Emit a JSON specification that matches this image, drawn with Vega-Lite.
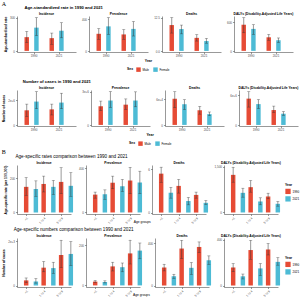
{
  "$schema": "https://vega.github.io/schema/vega-lite/v6.json",
  "padding": {"left": 1, "top": 0, "right": 1, "bottom": 1},
  "background": "white",
  "datasets": {
    "burden": [
      {"section": "A1", "measure": "Incidence", "group": "1990", "series": "Male", "value": 124, "lower": 75, "upper": 176},
      {"section": "A1", "measure": "Incidence", "group": "1990", "series": "Female", "value": 210, "lower": 138, "upper": 300},
      {"section": "A1", "measure": "Incidence", "group": "2021", "series": "Male", "value": 115, "lower": 60, "upper": 161},
      {"section": "A1", "measure": "Incidence", "group": "2021", "series": "Female", "value": 182, "lower": 118, "upper": 254},
      {"section": "A1", "measure": "Prevalence", "group": "1990", "series": "Male", "value": 216, "lower": 147, "upper": 282},
      {"section": "A1", "measure": "Prevalence", "group": "1990", "series": "Female", "value": 310, "lower": 208, "upper": 420},
      {"section": "A1", "measure": "Prevalence", "group": "2021", "series": "Male", "value": 208, "lower": 147, "upper": 269},
      {"section": "A1", "measure": "Prevalence", "group": "2021", "series": "Female", "value": 278, "lower": 188, "upper": 371},
      {"section": "A1", "measure": "Deaths", "group": "1990", "series": "Male", "value": 9.7, "lower": 6.7, "upper": 12.5},
      {"section": "A1", "measure": "Deaths", "group": "1990", "series": "Female", "value": 8.2, "lower": 6.4, "upper": 9.7},
      {"section": "A1", "measure": "Deaths", "group": "2021", "series": "Male", "value": 4.9, "lower": 3.7, "upper": 6.1},
      {"section": "A1", "measure": "Deaths", "group": "2021", "series": "Female", "value": 3.7, "lower": 2.9, "upper": 4.7},
      {"section": "A1", "measure": "DALYs", "group": "1990", "series": "Male", "value": 551, "lower": 381, "upper": 700},
      {"section": "A1", "measure": "DALYs", "group": "1990", "series": "Female", "value": 463, "lower": 347, "upper": 551},
      {"section": "A1", "measure": "DALYs", "group": "2021", "series": "Male", "value": 286, "lower": 224, "upper": 347},
      {"section": "A1", "measure": "DALYs", "group": "2021", "series": "Female", "value": 224, "lower": 177, "upper": 272},

      {"section": "A2", "measure": "Incidence", "group": "1990", "series": "Male", "value": 870000, "lower": 500000, "upper": 1240000},
      {"section": "A2", "measure": "Incidence", "group": "1990", "series": "Female", "value": 1390000, "lower": 963000, "upper": 1980000},
      {"section": "A2", "measure": "Incidence", "group": "2021", "series": "Male", "value": 926000, "lower": 593000, "upper": 1240000},
      {"section": "A2", "measure": "Incidence", "group": "2021", "series": "Female", "value": 1330000, "lower": 963000, "upper": 1890000},
      {"section": "A2", "measure": "Prevalence", "group": "1990", "series": "Male", "value": 1400000, "lower": 1070000, "upper": 1790000},
      {"section": "A2", "measure": "Prevalence", "group": "1990", "series": "Female", "value": 1830000, "lower": 1310000, "upper": 2500000},
      {"section": "A2", "measure": "Prevalence", "group": "2021", "series": "Male", "value": 1520000, "lower": 1170000, "upper": 1950000},
      {"section": "A2", "measure": "Prevalence", "group": "2021", "series": "Female", "value": 1830000, "lower": 1360000, "upper": 2480000},
      {"section": "A2", "measure": "Deaths", "group": "1990", "series": "Male", "value": 60700, "lower": 40000, "upper": 77000},
      {"section": "A2", "measure": "Deaths", "group": "1990", "series": "Female", "value": 48000, "lower": 35500, "upper": 58500},
      {"section": "A2", "measure": "Deaths", "group": "2021", "series": "Male", "value": 34000, "lower": 25000, "upper": 43000},
      {"section": "A2", "measure": "Deaths", "group": "2021", "series": "Female", "value": 25000, "lower": 21500, "upper": 30000},
      {"section": "A2", "measure": "DALYs", "group": "1990", "series": "Male", "value": 5300000, "lower": 3600000, "upper": 6700000},
      {"section": "A2", "measure": "DALYs", "group": "1990", "series": "Female", "value": 4200000, "lower": 3300000, "upper": 5100000},
      {"section": "A2", "measure": "DALYs", "group": "2021", "series": "Male", "value": 3000000, "lower": 2500000, "upper": 3800000},
      {"section": "A2", "measure": "DALYs", "group": "2021", "series": "Female", "value": 2260000, "lower": 1940000, "upper": 2700000},

      {"section": "B1", "measure": "Incidence", "group": "<1", "series": "1990", "value": 150, "lower": 100, "upper": 204},
      {"section": "B1", "measure": "Incidence", "group": "<1", "series": "2021", "value": 137, "lower": 95, "upper": 185},
      {"section": "B1", "measure": "Incidence", "group": "1 to 4", "series": "1990", "value": 167, "lower": 120, "upper": 213},
      {"section": "B1", "measure": "Incidence", "group": "1 to 4", "series": "2021", "value": 150, "lower": 105, "upper": 188},
      {"section": "B1", "measure": "Incidence", "group": "5 to 9", "series": "1990", "value": 179, "lower": 110, "upper": 262},
      {"section": "B1", "measure": "Incidence", "group": "5 to 9", "series": "2021", "value": 156, "lower": 95, "upper": 233},
      {"section": "B1", "measure": "Prevalence", "group": "<1", "series": "1990", "value": 162, "lower": 130, "upper": 185},
      {"section": "B1", "measure": "Prevalence", "group": "<1", "series": "2021", "value": 165, "lower": 120, "upper": 205},
      {"section": "B1", "measure": "Prevalence", "group": "1 to 4", "series": "1990", "value": 270, "lower": 215, "upper": 330},
      {"section": "B1", "measure": "Prevalence", "group": "1 to 4", "series": "2021", "value": 238, "lower": 190, "upper": 300},
      {"section": "B1", "measure": "Prevalence", "group": "5 to 9", "series": "1990", "value": 290, "lower": 170, "upper": 410},
      {"section": "B1", "measure": "Prevalence", "group": "5 to 9", "series": "2021", "value": 272, "lower": 170, "upper": 375},
      {"section": "B1", "measure": "Deaths", "group": "<1", "series": "1990", "value": 5.4, "lower": 4.2, "upper": 6.3},
      {"section": "B1", "measure": "Deaths", "group": "<1", "series": "2021", "value": 2.75, "lower": 2.0, "upper": 3.5},
      {"section": "B1", "measure": "Deaths", "group": "1 to 4", "series": "1990", "value": 3.7, "lower": 2.7, "upper": 4.6},
      {"section": "B1", "measure": "Deaths", "group": "1 to 4", "series": "2021", "value": 1.6, "lower": 1.07, "upper": 2.1},
      {"section": "B1", "measure": "Deaths", "group": "5 to 9", "series": "1990", "value": 2.45, "lower": 2.0, "upper": 2.84},
      {"section": "B1", "measure": "Deaths", "group": "5 to 9", "series": "2021", "value": 1.35, "lower": 1.1, "upper": 1.67},
      {"section": "B1", "measure": "DALYs", "group": "<1", "series": "1990", "value": 1228, "lower": 989, "upper": 1478},
      {"section": "B1", "measure": "DALYs", "group": "<1", "series": "2021", "value": 641, "lower": 500, "upper": 793},
      {"section": "B1", "measure": "DALYs", "group": "1 to 4", "series": "1990", "value": 826, "lower": 663, "upper": 1043},
      {"section": "B1", "measure": "DALYs", "group": "1 to 4", "series": "2021", "value": 359, "lower": 250, "upper": 478},
      {"section": "B1", "measure": "DALYs", "group": "5 to 9", "series": "1990", "value": 522, "lower": 446, "upper": 630},
      {"section": "B1", "measure": "DALYs", "group": "5 to 9", "series": "2021", "value": 283, "lower": 206, "upper": 359},

      {"section": "B2", "measure": "Incidence", "group": "<1", "series": "1990", "value": 174, "lower": 93, "upper": 256},
      {"section": "B2", "measure": "Incidence", "group": "<1", "series": "2021", "value": 140, "lower": 81, "upper": 233},
      {"section": "B2", "measure": "Incidence", "group": "1 to 4", "series": "1990", "value": 605, "lower": 465, "upper": 814},
      {"section": "B2", "measure": "Incidence", "group": "1 to 4", "series": "2021", "value": 590, "lower": 407, "upper": 790},
      {"section": "B2", "measure": "Incidence", "group": "5 to 9", "series": "1990", "value": 1035, "lower": 605, "upper": 1535},
      {"section": "B2", "measure": "Incidence", "group": "5 to 9", "series": "2021", "value": 1070, "lower": 674, "upper": 1488},
      {"section": "B2", "measure": "Prevalence", "group": "<1", "series": "1990", "value": 19, "lower": 14, "upper": 24.6},
      {"section": "B2", "measure": "Prevalence", "group": "<1", "series": "2021", "value": 17.5, "lower": 12.3, "upper": 22.8},
      {"section": "B2", "measure": "Prevalence", "group": "1 to 4", "series": "1990", "value": 95, "lower": 72, "upper": 116},
      {"section": "B2", "measure": "Prevalence", "group": "1 to 4", "series": "2021", "value": 91, "lower": 68, "upper": 112},
      {"section": "B2", "measure": "Prevalence", "group": "5 to 9", "series": "1990", "value": 160, "lower": 107, "upper": 226},
      {"section": "B2", "measure": "Prevalence", "group": "5 to 9", "series": "2021", "value": 174, "lower": 133, "upper": 212},
      {"section": "B2", "measure": "Deaths", "group": "<1", "series": "1990", "value": 169, "lower": 137, "upper": 200},
      {"section": "B2", "measure": "Deaths", "group": "<1", "series": "2021", "value": 87, "lower": 66, "upper": 106},
      {"section": "B2", "measure": "Deaths", "group": "1 to 4", "series": "1990", "value": 347, "lower": 253, "upper": 425},
      {"section": "B2", "measure": "Deaths", "group": "1 to 4", "series": "2021", "value": 166, "lower": 103, "upper": 216},
      {"section": "B2", "measure": "Deaths", "group": "5 to 9", "series": "1990", "value": 362, "lower": 309, "upper": 409},
      {"section": "B2", "measure": "Deaths", "group": "5 to 9", "series": "2021", "value": 237, "lower": 197, "upper": 278},
      {"section": "B2", "measure": "DALYs", "group": "<1", "series": "1990", "value": 157, "lower": 120, "upper": 191},
      {"section": "B2", "measure": "DALYs", "group": "<1", "series": "2021", "value": 80, "lower": 57, "upper": 100},
      {"section": "B2", "measure": "DALYs", "group": "1 to 4", "series": "1990", "value": 309, "lower": 229, "upper": 394},
      {"section": "B2", "measure": "DALYs", "group": "1 to 4", "series": "2021", "value": 149, "lower": 86, "upper": 191},
      {"section": "B2", "measure": "DALYs", "group": "5 to 9", "series": "1990", "value": 314, "lower": 266, "upper": 366},
      {"section": "B2", "measure": "DALYs", "group": "5 to 9", "series": "2021", "value": 206, "lower": 177, "upper": 243}
    ]
  },
  "data": {"name": "burden"},
  "resolve": {"scale": {"color": "independent"}},
  "spacing": 2,
  "vconcat": [
    {
      "title": {"text": "A", "anchor": "start", "font": "Liberation Serif", "fontSize": 6, "fontWeight": "normal", "offset": -1},
      "resolve": {"scale": {"color": "independent"}},
      "spacing": 6,
      "vconcat": [
        {
          "title": {"text": "Age-standardized rate in 1990 and 2021", "anchor": "start", "dx": 21, "fontSize": 4.2, "fontWeight": "bold", "offset": 2},
          "vconcat": [
            {
              "title": {"text": "Year", "orient": "bottom", "anchor": "middle", "fontSize": 3.5, "fontWeight": "bold", "offset": 1},
              "spacing": 5,
              "hconcat": [
                {
                  "width": 59, "height": 36,
                  "title": "Incidence",
                  "transform": [{"filter": "datum.section == 'A1' && datum.measure == 'Incidence'"}],
                  "encoding": {
                    "x": {"field": "group", "type": "nominal", "sort": ["1990", "2021"], "title": null, "scale": {"paddingInner": 0.24, "paddingOuter": 0.3}, "axis": {"labelAngle": 0}},
                    "xOffset": {"field": "series", "type": "nominal", "sort": ["Male", "Female"], "scale": {"paddingInner": 0.08}}
                  },
                  "layer": [
                    {"mark": "bar", "encoding": {
                      "y": {"field": "value", "type": "quantitative", "title": "Age-standardized rate", "scale": {"domain": [-10, 315], "nice": false, "zero": false}, "axis": {"values": [0, 100, 200, 300]}},
                      "y2": {"datum": 0},
                      "color": {"field": "series", "type": "nominal", "scale": {"domain": ["Male", "Female"], "range": ["#E64B35", "#4DBBD5"]}, "legend": {"title": "Sex", "orient": "bottom", "direction": "horizontal", "titleOrient": "left"}}}},
                    {"mark": {"type": "rule", "color": "#333333", "strokeWidth": 0.5}, "encoding": {"y": {"field": "lower", "type": "quantitative", "title": "Age-standardized rate"}, "y2": {"field": "upper"}}},
                    {"mark": {"type": "tick", "color": "#333333", "thickness": 0.5, "size": 3}, "encoding": {"y": {"field": "lower", "type": "quantitative", "title": "Age-standardized rate"}}},
                    {"mark": {"type": "tick", "color": "#333333", "thickness": 0.5, "size": 3}, "encoding": {"y": {"field": "upper", "type": "quantitative", "title": "Age-standardized rate"}}}
                  ]
                },
                {
                  "width": 59, "height": 36,
                  "title": "Prevalence",
                  "transform": [{"filter": "datum.section == 'A1' && datum.measure == 'Prevalence'"}],
                  "encoding": {
                    "x": {"field": "group", "type": "nominal", "sort": ["1990", "2021"], "title": null, "scale": {"paddingInner": 0.24, "paddingOuter": 0.3}, "axis": {"labelAngle": 0}},
                    "xOffset": {"field": "series", "type": "nominal", "sort": ["Male", "Female"], "scale": {"paddingInner": 0.08}}
                  },
                  "layer": [
                    {"mark": "bar", "encoding": {
                      "y": {"field": "value", "type": "quantitative", "title": null, "scale": {"domain": [-14, 441], "nice": false, "zero": false}, "axis": {"values": [0, 100, 200, 300, 400]}},
                      "y2": {"datum": 0},
                      "color": {"field": "series", "type": "nominal", "scale": {"domain": ["Male", "Female"], "range": ["#E64B35", "#4DBBD5"]}, "legend": {"title": "Sex", "orient": "bottom", "direction": "horizontal", "titleOrient": "left"}}}},
                    {"mark": {"type": "rule", "color": "#333333", "strokeWidth": 0.5}, "encoding": {"y": {"field": "lower", "type": "quantitative", "title": null}, "y2": {"field": "upper"}}},
                    {"mark": {"type": "tick", "color": "#333333", "thickness": 0.5, "size": 3}, "encoding": {"y": {"field": "lower", "type": "quantitative", "title": null}}},
                    {"mark": {"type": "tick", "color": "#333333", "thickness": 0.5, "size": 3}, "encoding": {"y": {"field": "upper", "type": "quantitative", "title": null}}}
                  ]
                },
                {
                  "width": 59, "height": 36,
                  "title": "Deaths",
                  "transform": [{"filter": "datum.section == 'A1' && datum.measure == 'Deaths'"}],
                  "encoding": {
                    "x": {"field": "group", "type": "nominal", "sort": ["1990", "2021"], "title": null, "scale": {"paddingInner": 0.24, "paddingOuter": 0.3}, "axis": {"labelAngle": 0}},
                    "xOffset": {"field": "series", "type": "nominal", "sort": ["Male", "Female"], "scale": {"paddingInner": 0.08}}
                  },
                  "layer": [
                    {"mark": "bar", "encoding": {
                      "y": {"field": "value", "type": "quantitative", "title": null, "scale": {"domain": [-0.4, 13.1], "nice": false, "zero": false}, "axis": {"values": [0, 2.5, 5, 7.5, 10, 12.5], "format": ".1f"}},
                      "y2": {"datum": 0},
                      "color": {"field": "series", "type": "nominal", "scale": {"domain": ["Male", "Female"], "range": ["#E64B35", "#4DBBD5"]}, "legend": {"title": "Sex", "orient": "bottom", "direction": "horizontal", "titleOrient": "left"}}}},
                    {"mark": {"type": "rule", "color": "#333333", "strokeWidth": 0.5}, "encoding": {"y": {"field": "lower", "type": "quantitative", "title": null}, "y2": {"field": "upper"}}},
                    {"mark": {"type": "tick", "color": "#333333", "thickness": 0.5, "size": 3}, "encoding": {"y": {"field": "lower", "type": "quantitative", "title": null}}},
                    {"mark": {"type": "tick", "color": "#333333", "thickness": 0.5, "size": 3}, "encoding": {"y": {"field": "upper", "type": "quantitative", "title": null}}}
                  ]
                },
                {
                  "width": 59, "height": 36,
                  "title": "DALYs (Disability-Adjusted Life Years)",
                  "transform": [{"filter": "datum.section == 'A1' && datum.measure == 'DALYs'"}],
                  "encoding": {
                    "x": {"field": "group", "type": "nominal", "sort": ["1990", "2021"], "title": null, "scale": {"paddingInner": 0.24, "paddingOuter": 0.3}, "axis": {"labelAngle": 0}},
                    "xOffset": {"field": "series", "type": "nominal", "sort": ["Male", "Female"], "scale": {"paddingInner": 0.08}}
                  },
                  "layer": [
                    {"mark": "bar", "encoding": {
                      "y": {"field": "value", "type": "quantitative", "title": null, "scale": {"domain": [-24, 735], "nice": false, "zero": false}, "axis": {"values": [0, 200, 400, 600]}},
                      "y2": {"datum": 0},
                      "color": {"field": "series", "type": "nominal", "scale": {"domain": ["Male", "Female"], "range": ["#E64B35", "#4DBBD5"]}, "legend": {"title": "Sex", "orient": "bottom", "direction": "horizontal", "titleOrient": "left"}}}},
                    {"mark": {"type": "rule", "color": "#333333", "strokeWidth": 0.5}, "encoding": {"y": {"field": "lower", "type": "quantitative", "title": null}, "y2": {"field": "upper"}}},
                    {"mark": {"type": "tick", "color": "#333333", "thickness": 0.5, "size": 3}, "encoding": {"y": {"field": "lower", "type": "quantitative", "title": null}}},
                    {"mark": {"type": "tick", "color": "#333333", "thickness": 0.5, "size": 3}, "encoding": {"y": {"field": "upper", "type": "quantitative", "title": null}}}
                  ]
                }
              ]
            }
          ]
        },
        {
          "title": {"text": "Number of cases in 1990 and 2021", "anchor": "start", "dx": 21, "fontSize": 4.2, "fontWeight": "bold", "offset": 2},
          "vconcat": [
            {
              "title": {"text": "Year", "orient": "bottom", "anchor": "middle", "fontSize": 3.5, "fontWeight": "bold", "offset": 1},
              "spacing": 5,
              "hconcat": [
                {
                  "width": 59, "height": 36,
                  "title": "Incidence",
                  "transform": [{"filter": "datum.section == 'A2' && datum.measure == 'Incidence'"}],
                  "encoding": {
                    "x": {"field": "group", "type": "nominal", "sort": ["1990", "2021"], "title": null, "scale": {"paddingInner": 0.24, "paddingOuter": 0.3}, "axis": {"labelAngle": 0}},
                    "xOffset": {"field": "series", "type": "nominal", "sort": ["Male", "Female"], "scale": {"paddingInner": 0.08}}
                  },
                  "layer": [
                    {"mark": "bar", "encoding": {
                      "y": {"field": "value", "type": "quantitative", "title": "Number of cases", "scale": {"domain": [-65000, 2080000], "nice": false, "zero": false}, "axis": {"values": [0, 500000, 1000000, 1500000], "format": ","}},
                      "y2": {"datum": 0},
                      "color": {"field": "series", "type": "nominal", "scale": {"domain": ["Male", "Female"], "range": ["#E64B35", "#4DBBD5"]}, "legend": {"title": "Sex", "orient": "bottom", "direction": "horizontal", "titleOrient": "left"}}}},
                    {"mark": {"type": "rule", "color": "#333333", "strokeWidth": 0.5}, "encoding": {"y": {"field": "lower", "type": "quantitative", "title": "Number of cases"}, "y2": {"field": "upper"}}},
                    {"mark": {"type": "tick", "color": "#333333", "thickness": 0.5, "size": 3}, "encoding": {"y": {"field": "lower", "type": "quantitative", "title": "Number of cases"}}},
                    {"mark": {"type": "tick", "color": "#333333", "thickness": 0.5, "size": 3}, "encoding": {"y": {"field": "upper", "type": "quantitative", "title": "Number of cases"}}}
                  ]
                },
                {
                  "width": 59, "height": 36,
                  "title": "Prevalence",
                  "transform": [{"filter": "datum.section == 'A2' && datum.measure == 'Prevalence'"}],
                  "encoding": {
                    "x": {"field": "group", "type": "nominal", "sort": ["1990", "2021"], "title": null, "scale": {"paddingInner": 0.24, "paddingOuter": 0.3}, "axis": {"labelAngle": 0}},
                    "xOffset": {"field": "series", "type": "nominal", "sort": ["Male", "Female"], "scale": {"paddingInner": 0.08}}
                  },
                  "layer": [
                    {"mark": "bar", "encoding": {
                      "y": {"field": "value", "type": "quantitative", "title": null, "scale": {"domain": [-80000, 2620000], "nice": false, "zero": false}, "axis": {"values": [0, 500000, 1000000, 1500000, 2000000, 2500000], "format": ","}},
                      "y2": {"datum": 0},
                      "color": {"field": "series", "type": "nominal", "scale": {"domain": ["Male", "Female"], "range": ["#E64B35", "#4DBBD5"]}, "legend": {"title": "Sex", "orient": "bottom", "direction": "horizontal", "titleOrient": "left"}}}},
                    {"mark": {"type": "rule", "color": "#333333", "strokeWidth": 0.5}, "encoding": {"y": {"field": "lower", "type": "quantitative", "title": null}, "y2": {"field": "upper"}}},
                    {"mark": {"type": "tick", "color": "#333333", "thickness": 0.5, "size": 3}, "encoding": {"y": {"field": "lower", "type": "quantitative", "title": null}}},
                    {"mark": {"type": "tick", "color": "#333333", "thickness": 0.5, "size": 3}, "encoding": {"y": {"field": "upper", "type": "quantitative", "title": null}}}
                  ]
                },
                {
                  "width": 59, "height": 36,
                  "title": "Deaths",
                  "transform": [{"filter": "datum.section == 'A2' && datum.measure == 'Deaths'"}],
                  "encoding": {
                    "x": {"field": "group", "type": "nominal", "sort": ["1990", "2021"], "title": null, "scale": {"paddingInner": 0.24, "paddingOuter": 0.3}, "axis": {"labelAngle": 0}},
                    "xOffset": {"field": "series", "type": "nominal", "sort": ["Male", "Female"], "scale": {"paddingInner": 0.08}}
                  },
                  "layer": [
                    {"mark": "bar", "encoding": {
                      "y": {"field": "value", "type": "quantitative", "title": null, "scale": {"domain": [-2500, 81000], "nice": false, "zero": false}, "axis": {"values": [0, 20000, 40000, 60000], "format": ","}},
                      "y2": {"datum": 0},
                      "color": {"field": "series", "type": "nominal", "scale": {"domain": ["Male", "Female"], "range": ["#E64B35", "#4DBBD5"]}, "legend": {"title": "Sex", "orient": "bottom", "direction": "horizontal", "titleOrient": "left"}}}},
                    {"mark": {"type": "rule", "color": "#333333", "strokeWidth": 0.5}, "encoding": {"y": {"field": "lower", "type": "quantitative", "title": null}, "y2": {"field": "upper"}}},
                    {"mark": {"type": "tick", "color": "#333333", "thickness": 0.5, "size": 3}, "encoding": {"y": {"field": "lower", "type": "quantitative", "title": null}}},
                    {"mark": {"type": "tick", "color": "#333333", "thickness": 0.5, "size": 3}, "encoding": {"y": {"field": "upper", "type": "quantitative", "title": null}}}
                  ]
                },
                {
                  "width": 59, "height": 36,
                  "title": "DALYs (Disability-Adjusted Life Years)",
                  "transform": [{"filter": "datum.section == 'A2' && datum.measure == 'DALYs'"}],
                  "encoding": {
                    "x": {"field": "group", "type": "nominal", "sort": ["1990", "2021"], "title": null, "scale": {"paddingInner": 0.24, "paddingOuter": 0.3}, "axis": {"labelAngle": 0}},
                    "xOffset": {"field": "series", "type": "nominal", "sort": ["Male", "Female"], "scale": {"paddingInner": 0.08}}
                  },
                  "layer": [
                    {"mark": "bar", "encoding": {
                      "y": {"field": "value", "type": "quantitative", "title": null, "scale": {"domain": [-210000, 7040000], "nice": false, "zero": false}, "axis": {"values": [0, 2000000, 4000000, 6000000], "format": ","}},
                      "y2": {"datum": 0},
                      "color": {"field": "series", "type": "nominal", "scale": {"domain": ["Male", "Female"], "range": ["#E64B35", "#4DBBD5"]}, "legend": {"title": "Sex", "orient": "bottom", "direction": "horizontal", "titleOrient": "left"}}}},
                    {"mark": {"type": "rule", "color": "#333333", "strokeWidth": 0.5}, "encoding": {"y": {"field": "lower", "type": "quantitative", "title": null}, "y2": {"field": "upper"}}},
                    {"mark": {"type": "tick", "color": "#333333", "thickness": 0.5, "size": 3}, "encoding": {"y": {"field": "lower", "type": "quantitative", "title": null}}},
                    {"mark": {"type": "tick", "color": "#333333", "thickness": 0.5, "size": 3}, "encoding": {"y": {"field": "upper", "type": "quantitative", "title": null}}}
                  ]
                }
              ]
            }
          ]
        }
      ]
    },
    {
      "title": {"text": "B", "anchor": "start", "font": "Liberation Serif", "fontSize": 6, "fontWeight": "normal", "offset": -1},
      "resolve": {"scale": {"color": "independent"}},
      "spacing": 3,
      "vconcat": [
        {
          "title": {"text": "Age-specific rates comparison between 1990 and 2021", "anchor": "start", "dx": 12, "fontSize": 4.6, "fontWeight": "normal", "offset": 2},
          "vconcat": [
            {
              "title": {"text": "Age groups", "orient": "bottom", "anchor": "middle", "fontSize": 3.3, "fontWeight": "normal", "offset": -4},
              "spacing": 4,
              "hconcat": [
                {
                  "width": 54, "height": 49,
                  "title": "Incidence",
                  "transform": [{"filter": "datum.section == 'B1' && datum.measure == 'Incidence'"}],
                  "encoding": {
                    "x": {"field": "group", "type": "nominal", "sort": ["<1", "1 to 4", "5 to 9"], "title": null, "scale": {"paddingInner": 0.15, "paddingOuter": 0.12}, "axis": {"labelAngle": -45}},
                    "xOffset": {"field": "series", "type": "nominal", "sort": ["1990", "2021"], "scale": {"paddingInner": 0.08}}
                  },
                  "layer": [
                    {"mark": "bar", "encoding": {
                      "y": {"field": "value", "type": "quantitative", "title": "Age-specific rate (per 100,000)", "scale": {"domain": [-9, 278], "nice": false, "zero": false}, "axis": {"values": [0, 100, 200]}},
                      "y2": {"datum": 0},
                      "color": {"field": "series", "type": "nominal", "scale": {"domain": ["1990", "2021"], "range": ["#E64B35", "#4DBBD5"]}, "legend": {"title": "Year", "orient": "right", "symbolSize": 28, "offset": 3}}}},
                    {"mark": {"type": "rule", "color": "#333333", "strokeWidth": 0.5}, "encoding": {"y": {"field": "lower", "type": "quantitative", "title": "Age-specific rate (per 100,000)"}, "y2": {"field": "upper"}}},
                    {"mark": {"type": "tick", "color": "#333333", "thickness": 0.5, "size": 3}, "encoding": {"y": {"field": "lower", "type": "quantitative", "title": "Age-specific rate (per 100,000)"}}},
                    {"mark": {"type": "tick", "color": "#333333", "thickness": 0.5, "size": 3}, "encoding": {"y": {"field": "upper", "type": "quantitative", "title": "Age-specific rate (per 100,000)"}}}
                  ]
                },
                {
                  "width": 54, "height": 49,
                  "title": "Prevalence",
                  "transform": [{"filter": "datum.section == 'B1' && datum.measure == 'Prevalence'"}],
                  "encoding": {
                    "x": {"field": "group", "type": "nominal", "sort": ["<1", "1 to 4", "5 to 9"], "title": null, "scale": {"paddingInner": 0.15, "paddingOuter": 0.12}, "axis": {"labelAngle": -45}},
                    "xOffset": {"field": "series", "type": "nominal", "sort": ["1990", "2021"], "scale": {"paddingInner": 0.08}}
                  },
                  "layer": [
                    {"mark": "bar", "encoding": {
                      "y": {"field": "value", "type": "quantitative", "title": null, "scale": {"domain": [-14, 431], "nice": false, "zero": false}, "axis": {"values": [0, 100, 200, 300, 400]}},
                      "y2": {"datum": 0},
                      "color": {"field": "series", "type": "nominal", "scale": {"domain": ["1990", "2021"], "range": ["#E64B35", "#4DBBD5"]}, "legend": {"title": "Year", "orient": "right", "symbolSize": 28, "offset": 3}}}},
                    {"mark": {"type": "rule", "color": "#333333", "strokeWidth": 0.5}, "encoding": {"y": {"field": "lower", "type": "quantitative", "title": null}, "y2": {"field": "upper"}}},
                    {"mark": {"type": "tick", "color": "#333333", "thickness": 0.5, "size": 3}, "encoding": {"y": {"field": "lower", "type": "quantitative", "title": null}}},
                    {"mark": {"type": "tick", "color": "#333333", "thickness": 0.5, "size": 3}, "encoding": {"y": {"field": "upper", "type": "quantitative", "title": null}}}
                  ]
                },
                {
                  "width": 54, "height": 49,
                  "title": "Deaths",
                  "transform": [{"filter": "datum.section == 'B1' && datum.measure == 'Deaths'"}],
                  "encoding": {
                    "x": {"field": "group", "type": "nominal", "sort": ["<1", "1 to 4", "5 to 9"], "title": null, "scale": {"paddingInner": 0.15, "paddingOuter": 0.12}, "axis": {"labelAngle": -45}},
                    "xOffset": {"field": "series", "type": "nominal", "sort": ["1990", "2021"], "scale": {"paddingInner": 0.08}}
                  },
                  "layer": [
                    {"mark": "bar", "encoding": {
                      "y": {"field": "value", "type": "quantitative", "title": null, "scale": {"domain": [-0.2, 6.6], "nice": false, "zero": false}, "axis": {"values": [0, 2, 4, 6]}},
                      "y2": {"datum": 0},
                      "color": {"field": "series", "type": "nominal", "scale": {"domain": ["1990", "2021"], "range": ["#E64B35", "#4DBBD5"]}, "legend": {"title": "Year", "orient": "right", "symbolSize": 28, "offset": 3}}}},
                    {"mark": {"type": "rule", "color": "#333333", "strokeWidth": 0.5}, "encoding": {"y": {"field": "lower", "type": "quantitative", "title": null}, "y2": {"field": "upper"}}},
                    {"mark": {"type": "tick", "color": "#333333", "thickness": 0.5, "size": 3}, "encoding": {"y": {"field": "lower", "type": "quantitative", "title": null}}},
                    {"mark": {"type": "tick", "color": "#333333", "thickness": 0.5, "size": 3}, "encoding": {"y": {"field": "upper", "type": "quantitative", "title": null}}}
                  ]
                },
                {
                  "width": 54, "height": 49,
                  "title": "DALYs (Disability-Adjusted Life Years)",
                  "transform": [{"filter": "datum.section == 'B1' && datum.measure == 'DALYs'"}],
                  "encoding": {
                    "x": {"field": "group", "type": "nominal", "sort": ["<1", "1 to 4", "5 to 9"], "title": null, "scale": {"paddingInner": 0.15, "paddingOuter": 0.12}, "axis": {"labelAngle": -45}},
                    "xOffset": {"field": "series", "type": "nominal", "sort": ["1990", "2021"], "scale": {"paddingInner": 0.08}}
                  },
                  "layer": [
                    {"mark": "bar", "encoding": {
                      "y": {"field": "value", "type": "quantitative", "title": null, "scale": {"domain": [-50, 1550], "nice": false, "zero": false}, "axis": {"values": [0, 500, 1000, 1500]}},
                      "y2": {"datum": 0},
                      "color": {"field": "series", "type": "nominal", "scale": {"domain": ["1990", "2021"], "range": ["#E64B35", "#4DBBD5"]}, "legend": {"title": "Year", "orient": "right", "symbolSize": 28, "offset": 3}}}},
                    {"mark": {"type": "rule", "color": "#333333", "strokeWidth": 0.5}, "encoding": {"y": {"field": "lower", "type": "quantitative", "title": null}, "y2": {"field": "upper"}}},
                    {"mark": {"type": "tick", "color": "#333333", "thickness": 0.5, "size": 3}, "encoding": {"y": {"field": "lower", "type": "quantitative", "title": null}}},
                    {"mark": {"type": "tick", "color": "#333333", "thickness": 0.5, "size": 3}, "encoding": {"y": {"field": "upper", "type": "quantitative", "title": null}}}
                  ]
                }
              ]
            }
          ]
        },
        {
          "title": {"text": "Age-specific numbers comparison between 1990 and 2021", "anchor": "start", "dx": 12, "fontSize": 4.6, "fontWeight": "normal", "offset": 2},
          "vconcat": [
            {
              "title": {"text": "Age groups", "orient": "bottom", "anchor": "middle", "fontSize": 3.3, "fontWeight": "normal", "offset": -4},
              "spacing": 4,
              "hconcat": [
                {
                  "width": 54, "height": 49,
                  "title": "Incidence",
                  "transform": [{"filter": "datum.section == 'B2' && datum.measure == 'Incidence'"}],
                  "encoding": {
                    "x": {"field": "group", "type": "nominal", "sort": ["<1", "1 to 4", "5 to 9"], "title": null, "scale": {"paddingInner": 0.15, "paddingOuter": 0.12}, "axis": {"labelAngle": -45}},
                    "xOffset": {"field": "series", "type": "nominal", "sort": ["1990", "2021"], "scale": {"paddingInner": 0.08}}
                  },
                  "layer": [
                    {"mark": "bar", "encoding": {
                      "y": {"field": "value", "type": "quantitative", "title": "Number of cases", "scale": {"domain": [-50, 1610], "nice": false, "zero": false}, "axis": {"values": [0, 500, 1000, 1500], "format": ","}},
                      "y2": {"datum": 0},
                      "color": {"field": "series", "type": "nominal", "scale": {"domain": ["1990", "2021"], "range": ["#E64B35", "#4DBBD5"]}, "legend": {"title": "Year", "orient": "right", "symbolSize": 28, "offset": 3}}}},
                    {"mark": {"type": "rule", "color": "#333333", "strokeWidth": 0.5}, "encoding": {"y": {"field": "lower", "type": "quantitative", "title": "Number of cases"}, "y2": {"field": "upper"}}},
                    {"mark": {"type": "tick", "color": "#333333", "thickness": 0.5, "size": 3}, "encoding": {"y": {"field": "lower", "type": "quantitative", "title": "Number of cases"}}},
                    {"mark": {"type": "tick", "color": "#333333", "thickness": 0.5, "size": 3}, "encoding": {"y": {"field": "upper", "type": "quantitative", "title": "Number of cases"}}}
                  ]
                },
                {
                  "width": 54, "height": 49,
                  "title": "Prevalence",
                  "transform": [{"filter": "datum.section == 'B2' && datum.measure == 'Prevalence'"}],
                  "encoding": {
                    "x": {"field": "group", "type": "nominal", "sort": ["<1", "1 to 4", "5 to 9"], "title": null, "scale": {"paddingInner": 0.15, "paddingOuter": 0.12}, "axis": {"labelAngle": -45}},
                    "xOffset": {"field": "series", "type": "nominal", "sort": ["1990", "2021"], "scale": {"paddingInner": 0.08}}
                  },
                  "layer": [
                    {"mark": "bar", "encoding": {
                      "y": {"field": "value", "type": "quantitative", "title": null, "scale": {"domain": [-8, 237], "nice": false, "zero": false}, "axis": {"values": [0, 100, 200]}},
                      "y2": {"datum": 0},
                      "color": {"field": "series", "type": "nominal", "scale": {"domain": ["1990", "2021"], "range": ["#E64B35", "#4DBBD5"]}, "legend": {"title": "Year", "orient": "right", "symbolSize": 28, "offset": 3}}}},
                    {"mark": {"type": "rule", "color": "#333333", "strokeWidth": 0.5}, "encoding": {"y": {"field": "lower", "type": "quantitative", "title": null}, "y2": {"field": "upper"}}},
                    {"mark": {"type": "tick", "color": "#333333", "thickness": 0.5, "size": 3}, "encoding": {"y": {"field": "lower", "type": "quantitative", "title": null}}},
                    {"mark": {"type": "tick", "color": "#333333", "thickness": 0.5, "size": 3}, "encoding": {"y": {"field": "upper", "type": "quantitative", "title": null}}}
                  ]
                },
                {
                  "width": 54, "height": 49,
                  "title": "Deaths",
                  "transform": [{"filter": "datum.section == 'B2' && datum.measure == 'Deaths'"}],
                  "encoding": {
                    "x": {"field": "group", "type": "nominal", "sort": ["<1", "1 to 4", "5 to 9"], "title": null, "scale": {"paddingInner": 0.15, "paddingOuter": 0.12}, "axis": {"labelAngle": -45}},
                    "xOffset": {"field": "series", "type": "nominal", "sort": ["1990", "2021"], "scale": {"paddingInner": 0.08}}
                  },
                  "layer": [
                    {"mark": "bar", "encoding": {
                      "y": {"field": "value", "type": "quantitative", "title": null, "scale": {"domain": [-14, 446], "nice": false, "zero": false}, "axis": {"values": [0, 100, 200, 300, 400]}},
                      "y2": {"datum": 0},
                      "color": {"field": "series", "type": "nominal", "scale": {"domain": ["1990", "2021"], "range": ["#E64B35", "#4DBBD5"]}, "legend": {"title": "Year", "orient": "right", "symbolSize": 28, "offset": 3}}}},
                    {"mark": {"type": "rule", "color": "#333333", "strokeWidth": 0.5}, "encoding": {"y": {"field": "lower", "type": "quantitative", "title": null}, "y2": {"field": "upper"}}},
                    {"mark": {"type": "tick", "color": "#333333", "thickness": 0.5, "size": 3}, "encoding": {"y": {"field": "lower", "type": "quantitative", "title": null}}},
                    {"mark": {"type": "tick", "color": "#333333", "thickness": 0.5, "size": 3}, "encoding": {"y": {"field": "upper", "type": "quantitative", "title": null}}}
                  ]
                },
                {
                  "width": 54, "height": 49,
                  "title": "DALYs (Disability-Adjusted Life Years)",
                  "transform": [{"filter": "datum.section == 'B2' && datum.measure == 'DALYs'"}],
                  "encoding": {
                    "x": {"field": "group", "type": "nominal", "sort": ["<1", "1 to 4", "5 to 9"], "title": null, "scale": {"paddingInner": 0.15, "paddingOuter": 0.12}, "axis": {"labelAngle": -45}},
                    "xOffset": {"field": "series", "type": "nominal", "sort": ["1990", "2021"], "scale": {"paddingInner": 0.08}}
                  },
                  "layer": [
                    {"mark": "bar", "encoding": {
                      "y": {"field": "value", "type": "quantitative", "title": null, "scale": {"domain": [-13, 414], "nice": false, "zero": false}, "axis": {"values": [0, 100, 200, 300, 400]}},
                      "y2": {"datum": 0},
                      "color": {"field": "series", "type": "nominal", "scale": {"domain": ["1990", "2021"], "range": ["#E64B35", "#4DBBD5"]}, "legend": {"title": "Year", "orient": "right", "symbolSize": 28, "offset": 3}}}},
                    {"mark": {"type": "rule", "color": "#333333", "strokeWidth": 0.5}, "encoding": {"y": {"field": "lower", "type": "quantitative", "title": null}, "y2": {"field": "upper"}}},
                    {"mark": {"type": "tick", "color": "#333333", "thickness": 0.5, "size": 3}, "encoding": {"y": {"field": "lower", "type": "quantitative", "title": null}}},
                    {"mark": {"type": "tick", "color": "#333333", "thickness": 0.5, "size": 3}, "encoding": {"y": {"field": "upper", "type": "quantitative", "title": null}}}
                  ]
                }
              ]
            }
          ]
        }
      ]
    }
  ],
  "config": {
    "font": "Liberation Sans",
    "view": {"stroke": null},
    "title": {"fontSize": 3.3, "fontWeight": "bold", "offset": 1, "color": "#000000", "anchor": "middle"},
    "axis": {
      "grid": false, "labelFontSize": 3, "titleFontSize": 3.4, "titleFontWeight": "bold",
      "domainColor": "#333333", "domainWidth": 0.5, "tickColor": "#333333", "tickWidth": 0.5, "tickSize": 1.5,
      "labelPadding": 1, "titlePadding": 2, "labelColor": "#4d4d4d", "titleColor": "#000000"
    },
    "legend": {
      "symbolType": "square", "symbolSize": 20, "symbolStrokeWidth": 0,
      "labelFontSize": 3, "titleFontSize": 3.4, "titleFontWeight": "bold",
      "padding": 1, "rowPadding": 1.5, "columnPadding": 3, "labelOffset": 1.5, "titlePadding": 2, "offset": 4,
      "layout": {"bottom": {"anchor": "middle"}, "right": {"anchor": "middle"}}
    }
  }
}
